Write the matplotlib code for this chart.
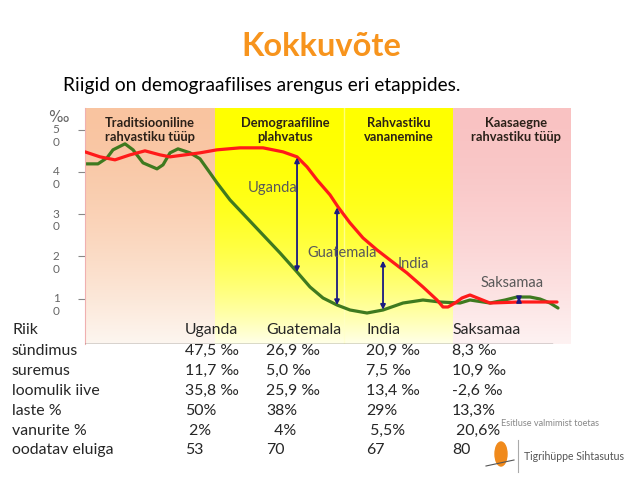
import numpy as np
import matplotlib
matplotlib.use('Agg')
import matplotlib.pyplot as plt
from matplotlib.patches import Ellipse

plt.rcParams['font.family'] = ['Lato', 'DejaVu Sans']

# --- data (x = stage progress 0..100, y = per mille) ---
birth_x = [0, 3.06, 6.12, 9.18, 12.24, 15.31, 17.35, 20.41, 23.47, 26.94, 31.63, 36.33,
           40.41, 43.27, 45.31, 47.35, 50.0, 51.63, 54.08, 56.73, 59.59, 62.24, 65.71,
           68.98, 71.84, 73.06, 74.08, 75.51, 76.94, 78.57, 80.61, 82.65, 88.78, 96.33]
birth_y = [44.73, 43.55, 42.84, 44.02, 44.97, 44.02, 43.55, 44.02, 44.5, 45.21, 45.68, 45.68,
           44.73, 43.55, 41.18, 38.11, 34.56, 31.72, 27.93, 24.38, 21.54, 19.17, 16.09,
           12.78, 9.7, 8.05, 8.05, 8.99, 10.18, 10.89, 9.94, 8.99, 9.23, 9.23]

death_x = [0, 2.65, 4.49, 5.71, 8.16, 9.8, 11.84, 14.69, 15.92, 17.35, 18.98, 21.43, 23.47,
           25.51, 26.94, 29.59, 33.06, 36.33, 39.8, 43.27, 45.92, 48.57, 51.43, 54.08, 57.55,
           60.82, 64.9, 68.98, 72.45, 76.53, 78.57, 82.65, 85.71, 88.16, 90.82, 92.86, 94.9, 96.53]
death_y = [41.89, 41.89, 43.31, 45.21, 46.63, 45.21, 42.13, 40.71, 41.66, 44.5, 45.44, 44.5, 43.08,
           39.76, 37.4, 33.37, 29.11, 25.09, 20.83, 16.33, 12.78, 10.18, 8.52, 7.34, 6.63,
           7.34, 8.99, 9.7, 9.23, 8.99, 9.7, 8.99, 9.7, 10.41, 10.41, 9.94, 8.99, 7.81]

countries = ['Uganda', 'Guatemala', 'India', 'Saksamaa']
arrow_x = [43.27, 51.43, 60.82, 88.57]
arrow_top = [43.4, 31.6, 19.0, 10.4]
arrow_bottom = [16.3, 8.5, 7.4, 9.2]
label_x = [33.3, 45.3, 63.9, 80.8]
label_y = [36.2, 20.8, 18.2, 13.7]

stages = ['Traditsiooniline\nrahvastiku tüüp', 'Demograafiline\nplahvatus',
          'Rahvastiku\nvananemine', 'Kaasaegne\nrahvastiku tüüp']
stage_edges = [0, 26.5, 75.1, 100]
yticks = [10, 20, 30, 40, 50]

row_labels = ['Riik', 'sündimus', 'suremus', 'loomulik iive', 'laste %',
              'vanurite %', 'oodatav eluiga']
uganda = ['Uganda', '47,5 ‰', '11,7 ‰', '35,8 ‰', '50%', ' 2%', '53']
guatemala = ['Guatemala', '26,9 ‰', '5,0 ‰', '25,9 ‰', '38%', '  4%', '70']
india = ['India', '20,9 ‰', '7,5 ‰', '13,4 ‰', '29%', ' 5,5%', '67']
saksamaa = ['Saksamaa', '8,3 ‰', '10,9 ‰', '-2,6 ‰', '13,3%', ' 20,6%', '80']

# --- figure ---
fig = plt.figure(figsize=(6.4, 4.8), dpi=100)
W, H = 640, 480
def fx(px): return px / W
def fy(py): return 1 - py / H

ax = fig.add_axes([fx(85), fy(344), fx(575) - fx(85), fy(108) - fy(344)])
y_lo, y_hi = -0.7, 55.1
ax.set_xlim(0, 100)
ax.set_ylim(y_lo, y_hi)

# gradient backgrounds
def grad(top, bottom, n=200, power=1.6):
    t = np.linspace(0, 1, n) ** power
    top, bottom = np.array(top) / 255, np.array(bottom) / 255
    return (top[None, :] * (1 - t[:, None]) + bottom[None, :] * t[:, None])[:, None, :]

ax.imshow(grad((249, 196, 160), (253, 246, 240)), extent=[stage_edges[0], stage_edges[1], y_lo, y_hi],
          aspect='auto', zorder=0)
ax.imshow(grad((255, 255, 0), (255, 255, 232), power=2.4), extent=[stage_edges[1], stage_edges[2], y_lo, y_hi],
          aspect='auto', zorder=0)
ax.imshow(grad((249, 194, 194), (254, 242, 242)), extent=[stage_edges[2], 99.0, y_lo, y_hi],
          aspect='auto', zorder=0)
ax.axvline(52.8, color='#ffffc8', lw=1.0, alpha=0.6, zorder=0.5)

ax.plot(birth_x, birth_y, color='#ff1a1a', lw=2.3, solid_joinstyle='round',
        solid_capstyle='round', zorder=3)
ax.plot(death_x, death_y, color='#3f7a1f', lw=2.3, solid_joinstyle='round',
        solid_capstyle='round', zorder=2)

for x, t, b in zip(arrow_x, arrow_top, arrow_bottom):
    ax.annotate('', xy=(x, t), xytext=(x, b),
                arrowprops=dict(arrowstyle='<|-|>', color='#1a1a80', lw=1.3,
                                mutation_scale=7, shrinkA=0, shrinkB=0), zorder=4)
for name, x, y in zip(countries, label_x, label_y):
    ax.text(x, y, name, color='#595959', fontsize=10.5, va='center', ha='left', zorder=5)

for s, cx in zip(stages, [13.3, 40.8, 64.1, 88.0]):
    ax.text(cx, 49.8, s, ha='center', va='center', fontsize=9.3,
            fontweight='bold', color='#2a2018', linespacing=1.2, zorder=5)

for sp in ['top', 'right', 'bottom']:
    ax.spines[sp].set_visible(False)
ax.spines['left'].set_color('#f0b0b0')
ax.axhline(y_lo + 0.05, xmax=0.953, color='#444444', lw=1.0, zorder=6)
ax.set_xticks([])
ax.set_yticks(yticks)
ax.tick_params(axis='y', length=5, color='#888888', labelleft=False)
for t in yticks:
    ax.text(-0.059, t + 1.3, f'{t // 10}\n{t % 10}', transform=ax.get_yaxis_transform(),
            ha='center', va='top', fontsize=8.5, color='#666666', linespacing=1.2)
fig.text(fx(58), fy(117), '‰', fontsize=11, color='#666666', ha='center', va='center',
         family=['DejaVu Sans'])

# titles
fig.text(fx(321), fy(47), 'Kokkuvõte', fontsize=23.5, fontweight='bold', color='#f7941d',
         ha='center', va='center')
fig.text(fx(63), fy(86), 'Riigid on demograafilises arengus eri etappides.', fontsize=13.8,
         color='black', ha='left', va='center')

# table
cols = [row_labels, uganda, guatemala, india, saksamaa]
col_px = [12, 185, 266, 366, 452]
row_py = [330, 351, 371, 391, 411, 431, 450]
for col, cx in zip(cols, col_px):
    for txt, ry in zip(col, row_py):
        fig.text(fx(cx), fy(ry), txt, fontsize=11.4, color='#262626', ha='left', va='center')

# footer
fig.text(fx(501), fy(424), 'Esitluse valmimist toetas', fontsize=6.6, color='#888888',
         ha='left', va='center')
fig.text(fx(524), fy(457), 'Tigrihüppe Sihtasutus', fontsize=7.6, color='#555555',
         ha='left', va='center')
fig.add_artist(plt.Line2D([fx(518), fx(518)], [fy(440), fy(472)], color='#aaaaaa', lw=0.8))
fig.add_artist(Ellipse((fx(501), fy(454)), fx(12), 1 - fy(24), color='#f08a1c'))
fig.add_artist(plt.Line2D([fx(486), fx(514)], [fy(466), fy(460)], color='#555555', lw=0.8))

fig.savefig('out.png', dpi=100)
